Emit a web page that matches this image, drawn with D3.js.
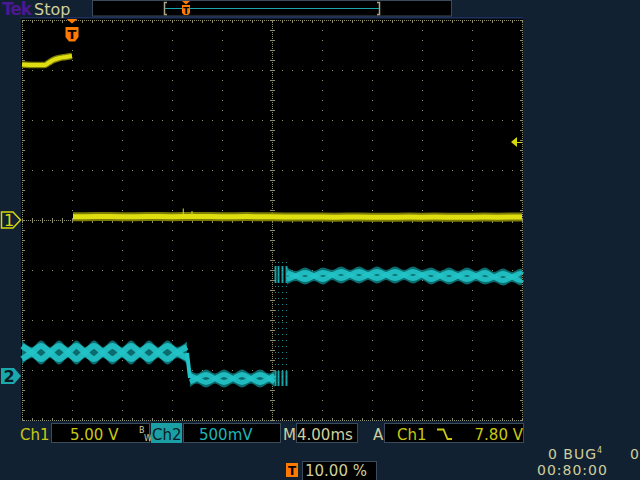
<!DOCTYPE html>
<html><head><meta charset="utf-8">
<script src="https://cdn.jsdelivr.net/npm/d3@7"></script>
<style>html,body{margin:0;padding:0;background:#122131;}svg{display:block}</style>
</head><body><svg id="c" width="640" height="480"></svg>
<script>
// ---------------- data ----------------
const timeDomain = [-4, 36];          // ms  (4.00 ms/div, trigger at 10 %)
const ch1Domain  = [-20, 20];         // V   (5.00 V/div, ground at centre)
const ch2Domain  = [-0.44, 3.56];     // V   (500 mV/div, marker "2")
const timeDivs   = [-4, 0, 4, 8, 12, 16, 20, 24, 28, 32, 36];
const ch1Divs    = [-20, -15, -10, -5, 0, 5, 10, 15, 20];
const triggerLevel = 7.8;             // V, Ch1

// Ch1 before trigger
const ch1PreT = [-4, -3, -2.2, -1.9, -1.5, -1.0, -0.5, 0];
const ch1PreV = [15.55, 15.5, 15.5, 15.7, 16.0, 16.2, 16.3, 16.4];
// Ch1 after trigger (centre of noisy band)
const ch1PostT = [0.08,1,2,3,4,5,6,7,8,9,10,11,12,13,14,15,16,17,18,19,20,21,22,23,24,25,26,27,28,29,30,31,32,33,34,35,36];
const ch1PostV = [0.32,0.33,0.35,0.34,0.32,0.33,0.35,0.34,0.33,0.36,0.35,0.34,0.33,0.32,0.34,0.33,0.32,0.31,0.30,0.31,0.29,0.28,0.29,0.30,0.28,0.27,0.28,0.29,0.28,0.29,0.28,0.27,0.28,0.29,0.28,0.30,0.30];
const ch1SpikeT = [8.9, 9.6];
const ch1SpikeV = [1.15, 0.9];

// Ch2 before the step (two beating strands)
const ch2PreT = [-4.0,-3.2,-2.48,-1.76,-1.04,-0.32,0.36,1.04,1.76,2.48,3.24,4.0,4.72,5.44,6.16,6.88,7.64,8.4,9.2];
const ch2PreA = [0.17,0.235,0.30,0.235,0.17,0.235,0.30,0.235,0.17,0.235,0.30,0.235,0.17,0.235,0.30,0.235,0.17,0.235,0.29];
const ch2PreB = [0.30,0.235,0.17,0.235,0.30,0.235,0.17,0.235,0.30,0.235,0.17,0.235,0.30,0.235,0.17,0.235,0.30,0.235,0.18];
// Ch2 low section
const ch2LowT = [9.44,10.0,10.72,11.44,12.16,12.88,13.6,14.32,15.04,15.76,16.2];
const ch2LowA = [-0.06,-0.025,0.015,-0.025,-0.065,-0.025,0.015,-0.025,-0.065,-0.025,0.005];
const ch2LowB = [0.005,-0.025,-0.065,-0.025,0.015,-0.025,-0.065,-0.025,0.015,-0.025,-0.06];
// Ch2 high section
const ch2HighT = [17.2,17.92,18.64,19.36,20.08,20.8,21.52,22.24,22.96,23.68,24.4,25.12,25.84,26.56,27.28,28.0,28.72,29.44,30.16,30.88,31.6,32.32,33.04,33.76,34.48,35.2,35.92,36.0];
const ch2HighA = [1.035,1.0,0.965,1.0,1.035,1.01,0.975,1.01,1.045,1.01,0.975,1.01,1.045,1.01,0.975,1.01,1.035,1.0,0.965,1.0,1.035,1.0,0.965,0.99,1.025,0.99,0.955,0.965];
const ch2HighB = [0.965,1.0,1.035,1.0,0.965,1.01,1.045,1.01,0.975,1.01,1.045,1.01,0.975,1.01,1.045,1.01,0.965,1.0,1.035,1.0,0.965,1.0,1.035,0.99,0.955,0.99,1.025,1.015];
// Ch2 glitch streaks around the step
const glitchT = [16.24, 16.48, 16.8, 17.12];

// status texts
const headerTexts = ["Tek", "Stop"];
const ch1Scale = "5.00 V", ch2Scale = "500mV", timeScale = "4.00ms";
const trigText = "7.80 V", trigPos = "10.00 %";
const statusTexts = ["0 BUG", "0", "00:80:00"];

// ---------------- scales ----------------
const x  = d3.scaleLinear().domain(timeDomain).range([22, 522]);
const y1 = d3.scaleLinear().domain(ch1Domain).range([420, 20]);
const y2 = d3.scaleLinear().domain(ch2Domain).range([420, 20]);

const svg = d3.select("#c");
const GRID = "#8e8e6c";
const YEL = "#dede10", YELD = "#7e7e06";
const TEAL = "#22c4c8", TEALD = "#0c777a";
const KHAKI = "#cfcf9c";
const FONT = "DejaVu Sans, Verdana, sans-serif";

svg.append("rect").attr("width",640).attr("height",480).attr("fill","#122131");
svg.append("line").attr("x1",20).attr("x2",523).attr("y1",17.5).attr("y2",17.5).attr("stroke","#1d2d62");
svg.append("rect").attr("x",21).attr("y",19).attr("width",502).attr("height",402).attr("fill","#000");

// ---------------- grid ----------------
const g = svg.append("g").attr("shape-rendering","crispEdges");
const xDiv = timeDivs.map(x), yDiv = ch1Divs.map(y1);
const xc = x(16), yc = y1(0);
const dotsY = d3.range(20, 421, 10), dotsX = d3.range(22, 523, 10);
const innerX = xDiv.filter(v => v > 23 && v < 521 && Math.abs(v - xc) > 1);
const innerY = yDiv.filter(v => v > 21 && v < 419 && Math.abs(v - yc) > 1);
const dots = [];
innerX.forEach(xx => dotsY.forEach(yy => dots.push([xx, yy])));
innerY.forEach(yy => dotsX.forEach(xx => dots.push([xx, yy])));
g.selectAll("rect.d").data(dots).join("rect").attr("class","d")
  .attr("x", d => d[0]).attr("y", d => d[1]).attr("width",1).attr("height",1).attr("fill",GRID);
const vLines = [x(-4), xc, x(36)], hLines = [y1(20), yc, y1(-20)];
vLines.forEach(xx => g.append("line").attr("x1",xx+0.5).attr("x2",xx+0.5).attr("y1",20).attr("y2",421)
  .attr("stroke",GRID).attr("stroke-dasharray","1,1"));
hLines.forEach(yy => g.append("line").attr("y1",yy+0.5).attr("y2",yy+0.5).attr("x1",22).attr("x2",523)
  .attr("stroke",GRID).attr("stroke-dasharray","1,1"));
dotsY.forEach(yy => {
  g.append("rect").attr("x",xc-2).attr("y",yy).attr("width",5).attr("height",1).attr("fill",GRID);
  g.append("rect").attr("x",x(-4)).attr("y",yy).attr("width",3).attr("height",1).attr("fill",GRID);
  g.append("rect").attr("x",x(36)-2).attr("y",yy).attr("width",3).attr("height",1).attr("fill",GRID);
});
dotsX.forEach(xx => {
  g.append("rect").attr("x",xx).attr("y",yc-2).attr("width",1).attr("height",5).attr("fill",GRID);
  g.append("rect").attr("x",xx).attr("y",y1(20)).attr("width",1).attr("height",3).attr("fill",GRID);
  g.append("rect").attr("x",xx).attr("y",y1(-20)-2).attr("width",1).attr("height",3).attr("fill",GRID);
});

// ---------------- traces ----------------
const tr = svg.append("g");
const lineGen = (ys) => d3.line().x(d => x(d[0])).y(d => ys(d[1])).curve(d3.curveMonotoneX);

function band(T, A, B, pad, w) {
  const pts = T.map((t, i) => [t, Math.max(A[i], B[i]) + pad, Math.min(A[i], B[i]) - pad]);
  tr.append("path").datum(pts)
    .attr("d", d3.area().x(d => x(d[0])).y0(d => y2(d[2])).y1(d => y2(d[1])).curve(d3.curveMonotoneX))
    .attr("fill", TEALD).attr("opacity", 0.9);
  [A, B].forEach(S => {
    tr.append("path").datum(T.map((t, i) => [t, S[i]])).attr("d", lineGen(y2))
      .attr("fill","none").attr("stroke",TEAL).attr("stroke-width",w).attr("opacity",0.9);
  });
}
band(ch2PreT, ch2PreA, ch2PreB, 0.055, 6);
band(ch2LowT, ch2LowA, ch2LowB, 0.05, 5);
band(ch2HighT, ch2HighA, ch2HighB, 0.05, 5);
tr.append("path").datum([[ch2PreT[ch2PreT.length-1], 0.23], [ch2LowT[0], -0.02]])
  .attr("d", d3.line().x(d => x(d[0])).y(d => y2(d[1]))).attr("stroke",TEAL).attr("stroke-width",4).attr("fill","none");
glitchT.forEach((t, i) => {
  const xx = Math.round(x(t)) + 0.5;
  tr.append("line").attr("x1",xx).attr("x2",xx).attr("y1",y2(1.14)).attr("y2",y2(-0.1))
    .attr("stroke",TEAL).attr("stroke-width",1).attr("stroke-dasharray","1,5").attr("opacity",0.7);
  tr.append("line").attr("x1",xx).attr("x2",xx).attr("y1",y2(1.1)).attr("y2",y2(0.93))
    .attr("stroke",TEAL).attr("stroke-width",2).attr("opacity",0.8);
  tr.append("line").attr("x1",xx).attr("x2",xx).attr("y1",y2(0.05)).attr("y2",y2(-0.1))
    .attr("stroke",TEAL).attr("stroke-width",2).attr("opacity",0.8);
});

// Ch1
const pre = ch1PreT.map((t, i) => [t, ch1PreV[i]]);
tr.append("path").datum(pre).attr("d", lineGen(y1)).attr("fill","none").attr("stroke",YELD).attr("stroke-width",6.5);
tr.append("path").datum(pre).attr("d", lineGen(y1)).attr("fill","none").attr("stroke",YEL).attr("stroke-width",4);
const post = ch1PostT.map((t, i) => [t, ch1PostV[i]]);
tr.append("path").datum(post)
  .attr("d", d3.area().x(d => x(d[0])).y0(d => y1(d[1] - 0.45)).y1(d => y1(d[1] + 0.45)))
  .attr("fill", YELD);
tr.append("path").datum(post)
  .attr("d", d3.area().x(d => x(d[0])).y0(d => y1(d[1] - 0.25)).y1(d => y1(d[1] + 0.25)))
  .attr("fill", YEL);
ch1SpikeT.forEach((t, i) => tr.append("line").attr("x1",x(t)).attr("x2",x(t))
  .attr("y1",y1(ch1SpikeV[i])).attr("y2",y1(0.4)).attr("stroke",YEL).attr("stroke-width",1));

// ---------------- markers ----------------
const m = svg.append("g");
const yM1 = y1(0);
m.append("path").attr("d",`M1.5,${yM1-8} H13 L20.5,${yM1} L13,${yM1+8} H1.5 Z`)
  .attr("fill","#122131").attr("stroke","#d6d60c").attr("stroke-width",1.5);
m.append("text").attr("x",9).attr("y",yM1+6).attr("text-anchor","middle").attr("font-family",FONT)
  .attr("font-size",16).attr("fill","#d6d60c").text("1");
const yM2 = y2(0);
m.append("path").attr("d",`M1,${yM2-8} H14 L21,${yM2} L14,${yM2+8} H1 Z`).attr("fill","#1aa8ac");
m.append("text").attr("x",9).attr("y",yM2+6).attr("text-anchor","middle").attr("font-family",FONT)
  .attr("font-size",16).attr("font-weight","bold").attr("fill","#0b1a26").text("2");
const yT = y1(triggerLevel);
m.append("path").attr("d",`M511,${yT} L517,${yT-5} L517,${yT+5} Z`).attr("fill","#d6d60c");
m.append("line").attr("x1",517).attr("x2",522).attr("y1",yT+0.5).attr("y2",yT+0.5).attr("stroke","#d6d60c");
const xT = x(0);
m.append("path").attr("d",`M${xT-5.5},19 H${xT+5.5} L${xT},23.5 Z`).attr("fill","#ff7a00");
m.append("path").attr("d",`M${xT-6.5},27 H${xT+6.5} V37 L${xT+3},41.5 H${xT-3} L${xT-6.5},37 Z`).attr("fill","#ff7a00");
m.append("text").attr("x",xT).attr("y",39).attr("text-anchor","middle").attr("font-family",FONT)
  .attr("font-size",13).attr("font-weight","bold").attr("fill","#000").text("T");

// ---------------- header ----------------
const h = svg.append("g");
h.append("text").attr("x",2).attr("y",15).attr("font-family",FONT).attr("font-size",17).attr("font-weight","bold")
  .attr("fill","#4a1890").attr("letter-spacing",-1).text(headerTexts[0]);
h.append("text").attr("x",34).attr("y",15).attr("font-family",FONT).attr("font-size",16)
  .attr("fill",KHAKI).text(headerTexts[1]);
h.append("rect").attr("x",92.5).attr("y",0.5).attr("width",359).attr("height",15.5).attr("fill","#000").attr("stroke","#3b4b5c");
h.append("path").attr("d","M167,2.5 H164.5 V14.5 H167").attr("fill","none").attr("stroke","#a8a888").attr("stroke-width",1.5);
h.append("path").attr("d","M377,2.5 H379.5 V14.5 H377").attr("fill","none").attr("stroke","#a8a888").attr("stroke-width",1.5);
h.append("line").attr("x1",165).attr("x2",379).attr("y1",8.5).attr("y2",8.5).attr("stroke","#1aa8ac").attr("stroke-width",1);
h.append("path").attr("d","M182,1 H190 L186,4.5 Z").attr("fill","#ff7a00");
h.append("path").attr("d","M182,5 H190 V13 L188,15 H184 L182,13 Z").attr("fill","#ff7a00");
h.append("text").attr("x",186).attr("y",13.5).attr("text-anchor","middle").attr("font-family",FONT)
  .attr("font-size",9).attr("font-weight","bold").attr("fill","#000").text("T");

// ---------------- bottom status ----------------
const b = svg.append("g").attr("font-family",FONT).attr("font-size",15);
function box(x0, y0, w, hh) {
  b.append("rect").attr("x",x0+0.5).attr("y",y0+0.5).attr("width",w).attr("height",hh)
    .attr("fill","#000").attr("stroke","#3b4b5c");
}
const Y1 = 440;
b.append("text").attr("x",20).attr("y",Y1).attr("fill","#c8c814").text("Ch1");
box(51, 423, 98, 19);
b.append("text").attr("x",70).attr("y",Y1).attr("fill","#c8c814").text(ch1Scale);
b.append("text").attr("x",139).attr("y",433).attr("font-size",8).attr("fill",KHAKI).text("B");
b.append("text").attr("x",144).attr("y",441).attr("font-size",8).attr("fill",KHAKI).text("W");
b.append("rect").attr("x",151).attr("y",423).attr("width",31).attr("height",20).attr("fill","#1aa0a4");
b.append("text").attr("x",152).attr("y",Y1).attr("fill","#0b1a26").text("Ch2");
box(183, 423, 97, 19);
b.append("text").attr("x",199).attr("y",Y1).attr("fill","#1eb4b8").text(ch2Scale);
b.append("text").attr("x",283).attr("y",Y1).attr("fill",KHAKI).text("M");
box(296, 423, 61, 19);
b.append("text").attr("x",297).attr("y",Y1).attr("fill",KHAKI).text(timeScale);
b.append("text").attr("x",373).attr("y",Y1).attr("fill",KHAKI).text("A");
box(384, 423, 139, 19);
b.append("text").attr("x",397).attr("y",Y1).attr("fill","#c8c814").text("Ch1");
b.append("path").attr("d","M437,429.5 H443.5 L447.5,439 H452").attr("fill","none").attr("stroke","#c8c814").attr("stroke-width",1.8);
b.append("text").attr("x",523).attr("y",Y1).attr("text-anchor","end").attr("fill","#c8c814").text(trigText);
b.append("rect").attr("x",286).attr("y",463).attr("width",12).attr("height",14).attr("fill","#ff7a00");
b.append("text").attr("x",292).attr("y",475).attr("text-anchor","middle").attr("font-size",12).attr("font-weight","bold").attr("fill","#000").text("T");
box(302, 461, 74, 19);
b.append("text").attr("x",305).attr("y",476).attr("fill",KHAKI).text(trigPos);
const bug = b.append("text").attr("x",548).attr("y",459).attr("font-size",14).attr("letter-spacing",1).attr("fill",KHAKI);
bug.append("tspan").text(statusTexts[0]);
bug.append("tspan").attr("font-size",8).attr("dy",-6).text("4");
b.append("text").attr("x",630).attr("y",459).attr("font-size",14).attr("fill",KHAKI).text(statusTexts[1]);
b.append("text").attr("x",537).attr("y",475).attr("font-size",14).attr("letter-spacing",1).attr("fill",KHAKI).text(statusTexts[2]);
</script></body></html>
